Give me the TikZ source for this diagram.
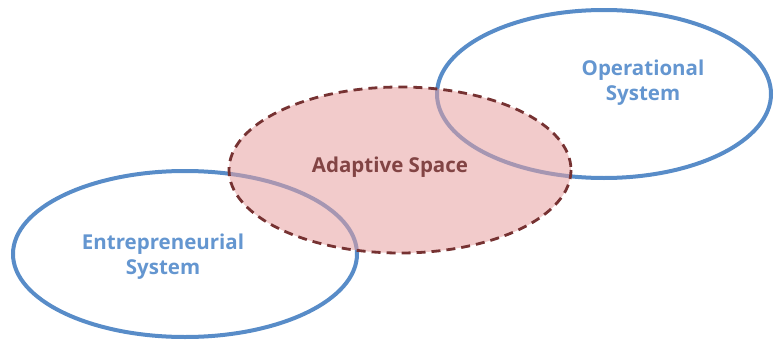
\documentclass[tikz,border=0pt]{standalone}
\usepackage{fontspec}
\setmainfont{Open Sans}
\definecolor{sysblue}{RGB}{88,140,200}
\definecolor{txtblue}{RGB}{100,150,208}
\definecolor{pinkfill}{RGB}{231,160,160}
\definecolor{darkred}{RGB}{118,50,50}
\definecolor{adtxt}{RGB}{130,68,68}
\begin{document}
\begin{tikzpicture}[x=1pt,y=-1pt,
  sysring/.style={draw=sysblue,line width=4pt},
  adapt/.style={fill=pinkfill,fill opacity=0.55,draw=darkred,draw opacity=1,line width=2.8pt,dash pattern=on 9pt off 6pt},
  systxt/.style={text=txtblue,font=\bfseries\fontsize{20.5}{25}\selectfont,align=center},
  adtext/.style={text=adtxt,font=\bfseries\fontsize{20.5}{25}\selectfont}]
\useasboundingbox (0,0) rectangle (774,340);
\draw[sysring] (185,254) ellipse [x radius=172, y radius=83];
\draw[sysring] (604,94) ellipse [x radius=167, y radius=84];
\draw[adapt] (400,170) ellipse [x radius=171, y radius=83];
\node[adtext] (ad) at (390,167) {Adaptive Space};
\node[systxt] (ent) at (163,257) {Entrepreneurial\\System};
\node[systxt] (op) at (643,83) {Operational\\System};
\end{tikzpicture}
\end{document}
